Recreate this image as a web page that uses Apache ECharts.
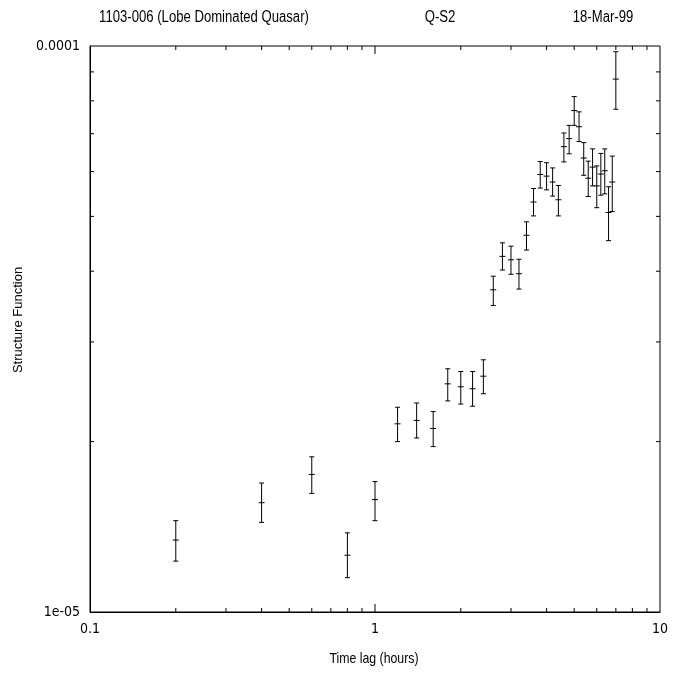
<!DOCTYPE html>
<html>
<head>
<meta charset="utf-8" />
<title>Structure Function 1103-006</title>
<script src="https://cdn.jsdelivr.net/npm/echarts@6/dist/echarts.min.js"></script>
<style type="text/css">
body, html {
	margin: 0;
	padding: 0;
	background: #fff;
}
#chart {
	width: 682px;
	height: 677px;
}
</style>
</head>
<body>
	<div id="chart"></div>
	<script>
		// time lags (hours)
		const lags = [0.2, 0.4, 0.6, 0.8, 1.0, 1.2, 1.4, 1.6, 1.8, 2.0, 2.2, 2.4,
			2.6, 2.8, 3.0, 3.2, 3.4, 3.6, 3.8, 4.0, 4.2, 4.4, 4.6, 4.8,
			5.0, 5.2, 5.4, 5.6, 5.8, 6.0, 6.2, 6.4, 6.6, 6.8, 7.0];
		// structure function, in units of 1e-5
		const sf = [1.34, 1.56, 1.75, 1.26, 1.58, 2.15, 2.18, 2.11, 2.53, 2.50, 2.48, 2.61,
			3.71, 4.25, 4.19, 3.96, 4.63, 5.30, 5.93, 5.89, 5.75, 5.35, 6.64, 6.86,
			7.69, 7.20, 6.34, 5.84, 6.11, 5.66, 5.94, 6.02, 5.08, 5.75, 8.74];
		const sfLow = [1.23, 1.44, 1.62, 1.15, 1.45, 2.00, 2.03, 1.96, 2.36, 2.33, 2.31, 2.43,
			3.48, 4.02, 3.95, 3.72, 4.36, 5.01, 5.61, 5.57, 5.43, 5.01, 6.24, 6.45,
			7.24, 6.78, 5.91, 5.42, 5.66, 5.18, 5.45, 5.48, 4.53, 5.10, 7.73];
		const sfHigh = [1.45, 1.69, 1.88, 1.38, 1.70, 2.30, 2.34, 2.26, 2.69, 2.66, 2.66, 2.79,
			3.92, 4.49, 4.43, 4.20, 4.89, 5.60, 6.25, 6.22, 6.09, 5.67, 7.02, 7.24,
			8.14, 7.65, 6.75, 6.26, 6.58, 6.14, 6.46, 6.58, 5.64, 6.39, 9.77];
		const unit = 1e-5;

		// axis ranges and ticks
		const xMin = 0.1, xMax = 10;
		const yMin = 1e-5, yMax = 1e-4;
		const xTicks = [0.2, 0.3, 0.4, 0.5, 0.6, 0.7, 0.8, 0.9, 1, 2, 3, 4, 5, 6, 7, 8, 9];
		const xMajor = [1];
		const yTicks = [2e-5, 3e-5, 4e-5, 5e-5, 6e-5, 7e-5, 8e-5, 9e-5];
		const yTickLabels = {'-5': '1e-05', '-4': '0.0001'};

		// no narrow face installed: squeeze Liberation Sans instead
		const font = "'Liberation Sans', Arial, sans-serif";
		const narrow = 0.82;
		const labelFont = "'DejaVu Sans Condensed', sans-serif";

		let pointData = [];
		for (let i = 0; i < lags.length; i++) {
			pointData.push([lags[i], sf[i] * unit, sfLow[i] * unit, sfHigh[i] * unit]);
		}

		function headText(txt, x, y, size) {
			return {
				type: 'text', x: x, y: y, scaleX: narrow,
				style: {text: txt, font: size + 'px ' + font, fill: '#000', textAlign: 'center', textVerticalAlign: 'middle'}
			};
		}

		let chart = echarts.init(document.getElementById('chart'));
		chart.setOption({
			animation: false,
			grid: {
				left: 90,
				right: 22,
				top: 46,
				bottom: 65,
				show: true,
				borderColor: '#000',
				borderWidth: 1,
				backgroundColor: 'transparent'
			},
			graphic: [
				headText('1103-006 (Lobe Dominated Quasar)', 204, 18, 16),
				headText('Q-S2', 440, 18, 16),
				headText('18-Mar-99', 603, 18, 16),
				headText('Time lag (hours)', 374, 659, 15),
				{type: 'text', x: 18, y: 320, rotation: Math.PI / 2, style: {text: 'Structure Function', font: '13px ' + font, fill: '#000', textAlign: 'center', textVerticalAlign: 'middle'}}
			],
			xAxis: {
				type: 'log',
				logBase: 10,
				min: xMin,
				max: xMax,
				axisLine: {show: true, lineStyle: {color: '#000'}},
				axisTick: {show: false},
				splitLine: {show: false},
				axisLabel: {
					margin: 10,
					fontFamily: labelFont,
					fontSize: 14,
					color: '#000',
					formatter: function (v) { return String(+v.toPrecision(3)); }
				}
			},
			yAxis: {
				type: 'log',
				logBase: 10,
				min: yMin,
				max: yMax,
				interval: 1,
				axisLine: {show: true, lineStyle: {color: '#000'}},
				axisTick: {show: false},
				splitLine: {show: false},
				axisLabel: {
					margin: 10,
					fontFamily: labelFont,
					fontSize: 14,
					color: '#000',
					formatter: function (v) {
						let e = Math.round(Math.log10(v));
						return yTickLabels[String(e)] || '';
					}
				}
			},
			series: [
				{
					// x ticks, bottom and top, pointing inward
					type: 'custom',
					silent: true,
					data: xTicks.map(function (v) { return [v, yMin]; }),
					renderItem: function (params, api) {
						let v = api.value(0);
						let p = api.coord([v, yMin]);
						let top = params.coordSys.y;
						let len = xMajor.indexOf(v) >= 0 ? 8 : 4;
						let style = {stroke: '#000', lineWidth: 1};
						return {
							type: 'group',
							children: [
								{type: 'line', shape: {x1: p[0], y1: p[1], x2: p[0], y2: p[1] - len}, style: style},
								{type: 'line', shape: {x1: p[0], y1: top, x2: p[0], y2: top + len}, style: style}
							]
						};
					}
				},
				{
					// y ticks, left and right
					type: 'custom',
					silent: true,
					data: yTicks.map(function (v) { return [xMin, v]; }),
					renderItem: function (params, api) {
						let p = api.coord([xMin, api.value(1)]);
						let right = params.coordSys.x + params.coordSys.width;
						let style = {stroke: '#000', lineWidth: 1};
						return {
							type: 'group',
							children: [
								{type: 'line', shape: {x1: p[0], y1: p[1], x2: p[0] + 4, y2: p[1]}, style: style},
								{type: 'line', shape: {x1: right, y1: p[1], x2: right - 4, y2: p[1]}, style: style}
							]
						};
					}
				},
				{
					// points with error bars
					name: 'Structure Function',
					type: 'custom',
					data: pointData,
					encode: {x: 0, y: 1},
					renderItem: function (params, api) {
						let c = api.coord([api.value(0), api.value(1)]);
						let lo = api.coord([api.value(0), api.value(2)]);
						let hi = api.coord([api.value(0), api.value(3)]);
						let style = {stroke: '#000', lineWidth: 1};
						return {
							type: 'group',
							children: [
								{type: 'line', shape: {x1: c[0], y1: lo[1], x2: c[0], y2: hi[1]}, style: style},
								{type: 'line', shape: {x1: c[0] - 2.5, y1: lo[1], x2: c[0] + 2.5, y2: lo[1]}, style: style},
								{type: 'line', shape: {x1: c[0] - 2.5, y1: hi[1], x2: c[0] + 2.5, y2: hi[1]}, style: style},
								{type: 'line', shape: {x1: c[0] - 3, y1: c[1], x2: c[0] + 3, y2: c[1]}, style: style}
							]
						};
					}
				}
			]
		});
	</script>
</body>
</html>
